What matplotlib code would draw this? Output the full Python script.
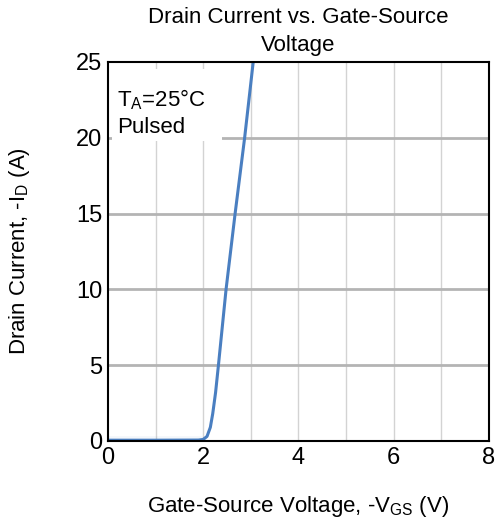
import matplotlib
matplotlib.use("Agg")
import matplotlib.pyplot as plt
from matplotlib.patches import Rectangle

plt.rcParams['font.family'] = ['Liberation Sans', 'DejaVu Sans']

vgs = [0.0, 1.0, 1.9, 2.0, 2.08, 2.15, 2.2, 2.26, 2.32, 2.48, 2.67, 2.87, 3.05, 3.12]
id_a = [0.05, 0.05, 0.06, 0.1, 0.3, 0.9, 1.8, 3.2, 5.0, 10.0, 15.0, 20.0, 25.0, 27.0]

xticks = [0, 2, 4, 6, 8]
yticks = [0, 5, 10, 15, 20, 25]

fig = plt.figure(figsize=(4.95, 5.2), dpi=100)
ax = fig.add_axes([0.218, 0.152, 0.770, 0.729])

ax.set_xlim(0, 8)
ax.set_ylim(0, 25)
for xv in range(1, 8):
    ax.axvline(xv, color='#d3d3d3', lw=1.0, zorder=1)
for yv in [5, 10, 15, 20]:
    ax.axhline(yv, color='#b4b4b4', lw=2.0, zorder=1)

ax.add_patch(Rectangle((0.08, 19.75), 2.32, 4.75, facecolor='white',
                       edgecolor='none', zorder=2))

ax.fill_between([0, 1.95, 2.05], [0.35, 0.35, 0.2], 0, color='#4a7fc1',
                alpha=0.06, lw=0, zorder=2)
ax.plot(vgs, id_a, color='#4a7fc1', lw=2.2, zorder=3, clip_on=True)

ax.set_xticks(xticks)
ax.set_yticks(yticks)
ax.tick_params(length=0, labelsize=17, pad=4)
for s in ax.spines.values():
    s.set_color('black')
    s.set_linewidth(1.5)
    s.set_zorder(5)

ax.text(0.2, 22.5, r'T$_\mathregular{A}$=25°C', fontsize=16,
        va='center', ha='left', zorder=4)
ax.text(0.2, 20.65, 'Pulsed', fontsize=16, va='center', ha='left', zorder=4)

ax.set_title('Drain Current vs. Gate-Source\nVoltage', fontsize=16, pad=8,
             linespacing=1.4)
ax.set_xlabel(r'Gate-Source Voltage, -V$_\mathregular{GS}$ (V)', fontsize=16, labelpad=18)
ax.set_ylabel(r'Drain Current, -I$_\mathregular{D}$ (A)', fontsize=16, labelpad=32)

fig.savefig('out.png', dpi=100)
